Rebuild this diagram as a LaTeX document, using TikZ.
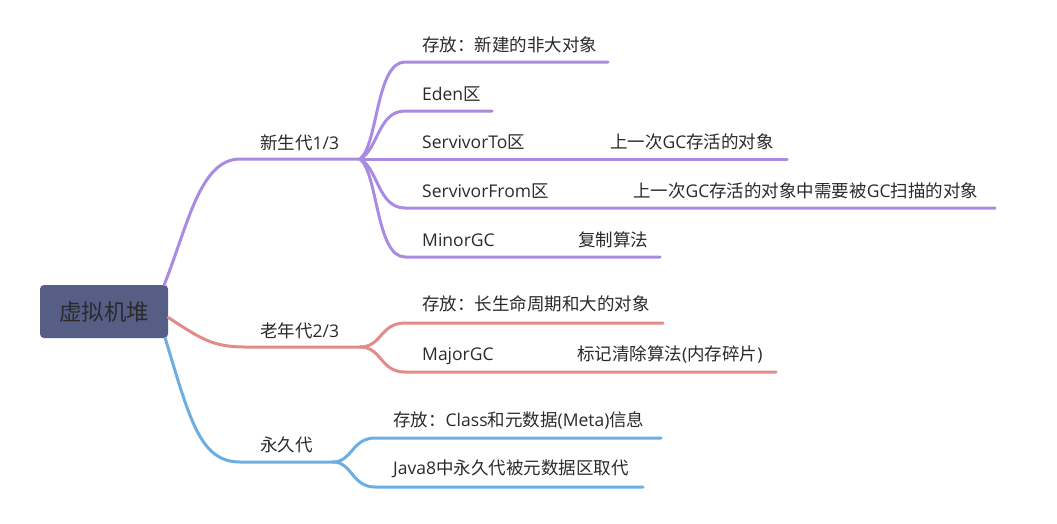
\documentclass[tikz,border=0pt]{standalone}
\usepackage{fontspec}
\setmainfont{Open Sans}
\newfontfamily\cjkfont{Noto Sans CJK SC}
\newcommand\cnt[1]{{\cjkfont #1}}
\definecolor{rootfill}{HTML}{575E85}
\definecolor{txt}{HTML}{2A2A2A}
\definecolor{cpurple}{HTML}{A98BE0}
\definecolor{cred}{HTML}{E38A8A}
\definecolor{cblue}{HTML}{6AAEE4}
\tikzset{
  conn/.style={line width=3pt, line cap=round},
  lbl/.style={anchor=base west, inner sep=0pt, text=txt, font=\fontsize{17.5}{20}\selectfont},
  rootbox/.style={fill=rootfill, rounded corners=4pt, minimum width=128pt, minimum height=53pt, text=txt, font=\fontsize{22.5}{26}\selectfont, inner sep=0pt}
}
\begin{document}
\begin{tikzpicture}[x=1pt,y=-1pt]
\useasboundingbox (0,0) rectangle (1057,523);
% root
\node[rootbox] (root) at (104,311.5) {\cnt{虚拟机堆}};
% junctions and line ends
\coordinate (jp) at (360,159);
\coordinate (jr) at (360,347);
\coordinate (jb) at (333,462);
\coordinate (e1) at (608,62);
\coordinate (e2) at (492,111);
\coordinate (e3) at (787,159);
\coordinate (e4) at (995,208);
\coordinate (e5) at (660,257);
\coordinate (r1) at (663,323);
\coordinate (r2) at (776,372);
\coordinate (b1) at (661,438);
\coordinate (b2) at (643,487);
% main branches
\draw[conn, cpurple] (root.north east) ++(-4,0) .. controls (188,225) and (200,159) .. (240,159) -- (jp);
\draw[conn, cred] (root.east) ++(0,6) .. controls (200,338) and (212,347) .. (245,347) -- (jr);
\draw[conn, cblue] (root.south east) ++(-3,0) .. controls (190,420) and (200,462) .. (240,462) -- (jb);
% purple children
\draw[conn, cpurple] (jp) .. controls (378,145) and (376,62) .. (405,62) -- (e1);
\draw[conn, cpurple] (jp) .. controls (378,150) and (378,111) .. (405,111) -- (e2);
\draw[conn, cpurple] (jp) -- (e3);
\draw[conn, cpurple] (jp) .. controls (378,168) and (378,208) .. (405,208) -- (e4);
\draw[conn, cpurple] (jp) .. controls (378,173) and (376,257) .. (405,257) -- (e5);
% red children
\draw[conn, cred] (jr) .. controls (382,347) and (380,323) .. (405,323) -- (r1);
\draw[conn, cred] (jr) .. controls (382,347) and (380,372) .. (405,372) -- (r2);
% blue children
\draw[conn, cblue] (jb) .. controls (352,462) and (352,438) .. (375,438) -- (b1);
\draw[conn, cblue] (jb) .. controls (352,462) and (352,487) .. (375,487) -- (b2);
% labels
\node[lbl] (tp) at (260,149) {\cnt{新生代}1/3};
\node[lbl] (tr) at (260,337) {\cnt{老年代}2/3};
\node[lbl] (tb) at (260,451) {\cnt{永久代}};
\node[lbl] (t1) at (422,51.5) {\cnt{存放：新建的非大对象}};
\node[lbl] (t2) at (422,100) {Eden\cnt{区}};
\node[lbl] (t3) at (422,148.5) {ServivorTo\cnt{区}};
\node[lbl] (t3b) at (610,148.5) {\cnt{上一次}GC\cnt{存活的对象}};
\node[lbl] (t4) at (422,197) {ServivorFrom\cnt{区}};
\node[lbl] (t4b) at (633,197) {\cnt{上一次}GC\cnt{存活的对象中需要被}GC\cnt{扫描的对象}};
\node[lbl] (t5) at (422,246) {MinorGC};
\node[lbl] (t5b) at (578,246) {\cnt{复制算法}};
\node[lbl] (tr1) at (422,310.5) {\cnt{存放：长生命周期和大的对象}};
\node[lbl] (tr2) at (422,360) {MajorGC};
\node[lbl] (tr2b) at (577,360) {\cnt{标记清除算法}(\cnt{内存碎片})};
\node[lbl] (tb1) at (393,426) {\cnt{存放：}Class\cnt{和元数据}(Meta)\cnt{信息}};
\node[lbl] (tb2) at (393,474.5) {Java8\cnt{中永久代被元数据区取代}};
\end{tikzpicture}
\end{document}
